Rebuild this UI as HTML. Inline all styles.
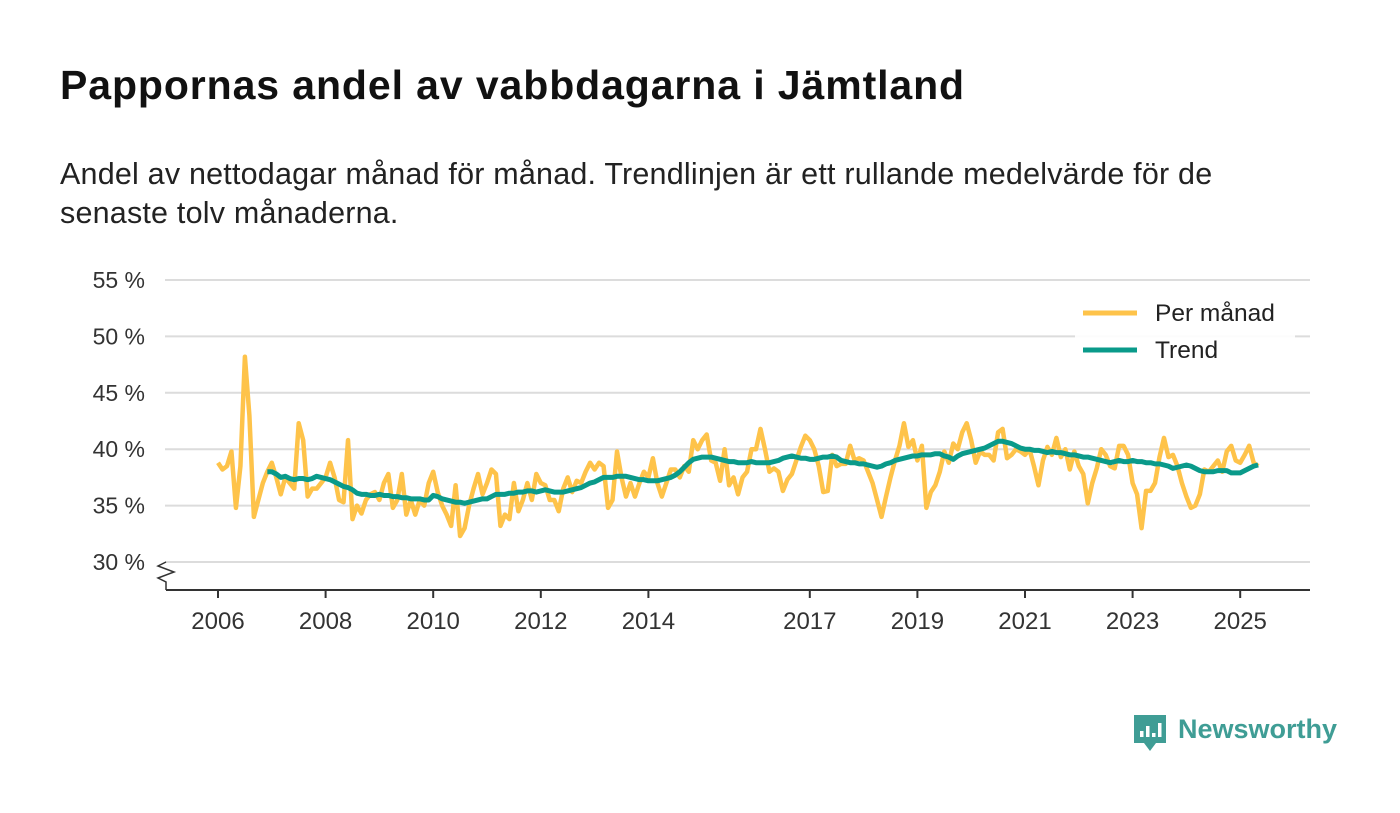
<!DOCTYPE html>
<html><head><meta charset="utf-8"><style>
body{margin:0;background:#fff;width:1400px;height:813px;overflow:hidden;font-family:"Liberation Sans",sans-serif;color:#111}
h1{position:absolute;left:60px;top:62px;margin:0;font-size:41px;font-weight:bold;letter-spacing:0.9px}
p{position:absolute;left:60px;top:155px;margin:0;font-size:30.5px;line-height:39px;width:1290px;color:#222;letter-spacing:0.2px}
svg{position:absolute;left:0;top:0}
</style></head><body>
<h1>Pappornas andel av vabbdagarna i Jämtland</h1>
<p>Andel av nettodagar månad för månad. Trendlinjen är ett rullande medelvärde för de<br>senaste tolv månaderna.</p>
<svg id="chart" width="1400" height="813"></svg>
<script>
const yTicks=[30,35,40,45,50,55];
const xTickYears=[2006,2008,2010,2012,2014,2017,2019,2021,2023,2025];
const monthly=[
38.8,38.2,38.5,39.8,34.8,38.5,48.2,43,34,35.5,37,38,
38.8,37.5,36,37.5,37,36.5,42.3,40.8,35.8,36.5,36.5,37,
37.5,38.8,37.5,35.5,35.3,40.8,33.8,35,34.3,35.5,36,36.2,
35.5,37,37.8,34.8,35.5,37.8,34.2,35.5,34.2,35.5,35,37,
38,36.2,35,34.2,33.2,36.8,32.3,33,35,36.5,37.8,36,
37,38.2,37.8,33.2,34.2,33.8,37,34.5,35.5,37,35.5,37.8,
37,36.8,35.5,35.5,34.5,36.5,37.5,36.2,37.2,37,38,38.8,
38.2,38.8,38.5,34.8,35.5,39.8,37.5,35.8,37,35.8,37,38,
37.5,39.2,37,35.8,37,38.2,38.2,37.5,38.5,38,40.8,40,
40.8,41.3,39,38.8,37.2,40,36.8,37.5,36,37.5,38,40,
40,41.8,40,38,38.3,38,36.3,37.3,37.8,39,40.2,41.2,
40.8,40,38.5,36.2,36.3,39.5,38.5,38.7,38.7,40.3,39,39.2,
39,38,37,35.5,34,35.8,37.5,39,40.3,42.3,40.2,40.8,
39,40.3,34.8,36.2,36.8,38,39.8,38.8,40.5,40,41.5,42.3,
40.8,38.8,39.8,39.5,39.5,39,41.5,41.8,39.2,39.5,40,39.8,
39.5,40,38.5,36.8,39,40.2,39.5,41,39.3,40,38.2,39.8,
38.5,37.8,35.2,37,38.3,40,39.5,38.5,38.3,40.3,40.3,39.5,
37,36,33,36.3,36.3,37,39.3,41,39.3,39.5,38.5,37,
35.8,34.8,35,36,38.2,38,38.5,39,38,39.8,40.3,39,
38.8,39.5,40.3,38.8,38.5];
const trendStart=11;
const trend=[38.0,
38.0,37.8,37.5,37.6,37.4,37.3,37.4,37.4,37.3,37.4,37.6,37.5,
37.4,37.3,37.1,36.9,36.7,36.6,36.4,36.1,36.0,36.0,35.9,35.9,
36.0,35.9,35.9,35.8,35.8,35.7,35.7,35.6,35.6,35.6,35.5,35.5,
35.9,35.8,35.6,35.5,35.4,35.3,35.3,35.2,35.3,35.4,35.5,35.6,
35.6,35.8,36.0,36.0,36.0,36.1,36.1,36.2,36.2,36.3,36.3,36.2,
36.3,36.4,36.3,36.2,36.2,36.2,36.3,36.4,36.5,36.6,36.8,37.0,
37.1,37.3,37.5,37.5,37.5,37.6,37.6,37.6,37.5,37.4,37.3,37.3,
37.2,37.2,37.2,37.3,37.4,37.5,37.7,38.0,38.4,38.8,39.1,39.2,
39.3,39.3,39.3,39.2,39.1,39.0,38.9,38.9,38.8,38.8,38.8,38.9,
38.8,38.8,38.8,38.8,38.9,39.0,39.2,39.3,39.4,39.3,39.2,39.2,
39.1,39.1,39.2,39.3,39.3,39.4,39.3,39.0,38.9,38.8,38.8,38.7,
38.7,38.6,38.5,38.4,38.5,38.7,38.8,39.0,39.1,39.2,39.3,39.4,
39.4,39.5,39.5,39.5,39.6,39.6,39.4,39.3,39.1,39.4,39.6,39.7,
39.8,39.9,40.0,40.1,40.3,40.5,40.7,40.7,40.6,40.5,40.3,40.1,
40.0,40.0,39.9,39.9,39.8,39.7,39.8,39.7,39.7,39.6,39.5,39.5,
39.4,39.3,39.3,39.2,39.1,39.0,38.9,38.8,38.9,39.0,38.9,38.9,
39.0,38.9,38.9,38.8,38.8,38.7,38.7,38.6,38.5,38.3,38.4,38.5,
38.6,38.5,38.3,38.1,38.0,38.0,38.0,38.1,38.1,38.1,37.9,37.9,
37.9,38.1,38.3,38.5,38.6];
const NS="http://www.w3.org/2000/svg";
const svg=document.getElementById('chart');
const X0=218,PX_YEAR=53.8;
const xm=i=>X0+i*PX_YEAR/12;
const xy=y=>X0+(y-2006)*PX_YEAR;
const yv=v=>562-(v-30)*56.4/5;
function mk(t,a){const e=document.createElementNS(NS,t);for(const k in a)e.setAttribute(k,a[k]);svg.appendChild(e);return e;}
yTicks.forEach(t=>{
 const g=mk('line',{x1:165,x2:1310,y1:yv(t),y2:yv(t),stroke:'#dcdcdc','stroke-width':2});
 
 
 const l=mk('text',{x:145,y:yv(t)+8,'text-anchor':'end','font-size':23,fill:'#333'});
 l.textContent=t+' %';
 
 
});
const ax=mk('line',{x1:166,x2:1310,y1:590,y2:590,stroke:'#333','stroke-width':2});


const br=mk('polyline',{points:'166,590 166,582 158,578 174,572 158,566 166,562',fill:'none',stroke:'#333','stroke-width':1.5});


xTickYears.forEach(y=>{
 const t=mk('line',{x1:xy(y),x2:xy(y),y1:590,y2:598,stroke:'#333','stroke-width':2});
 
 
 const l=mk('text',{x:xy(y),y:629,'text-anchor':'middle','font-size':24,fill:'#333'});
 l.textContent=y;
 
 
});
const pm=mk('polyline',{points:monthly.map((v,i)=>xm(i)+','+yv(v)).join(' '),fill:'none',stroke:'#fec34a','stroke-width':4.5,'stroke-linejoin':'round'});


const tr=mk('polyline',{points:trend.map((v,i)=>xm(i+trendStart)+','+yv(v)).join(' '),fill:'none',stroke:'#0a9a8a','stroke-width':5,'stroke-linejoin':'round'});


const lb=mk('rect',{x:1075,y:298,width:220,height:72,fill:'#fff',opacity:0.9});


[['Per månad','#fec34a',313],['Trend','#0a9a8a',350]].forEach(([n,c,y])=>{
 const s=mk('line',{x1:1083,x2:1137,y1:y,y2:y,stroke:c,'stroke-width':5});
 
 
 const t=mk('text',{x:1155,y:y+8,'font-size':24.5,fill:'#222'});
 t.textContent=n;
 
 
});
const logo=mk('path',{d:'M1134 715 h32 v28 h-10 l-6 8 l-6 -8 h-10 z',fill:'#3f9d95'});


[[1140,731,6],[1146,726,11],[1152,733,4],[1158,723,14]].forEach(([x,y,h])=>{const b=mk('rect',{x:x,y:y,width:3.5,height:h,fill:'#fff'});});
const lt=mk('text',{x:1178,y:738,'font-size':27,'font-weight':'bold',fill:'#3f9d95'});
lt.textContent='Newsworthy';


</script>
</body></html>
